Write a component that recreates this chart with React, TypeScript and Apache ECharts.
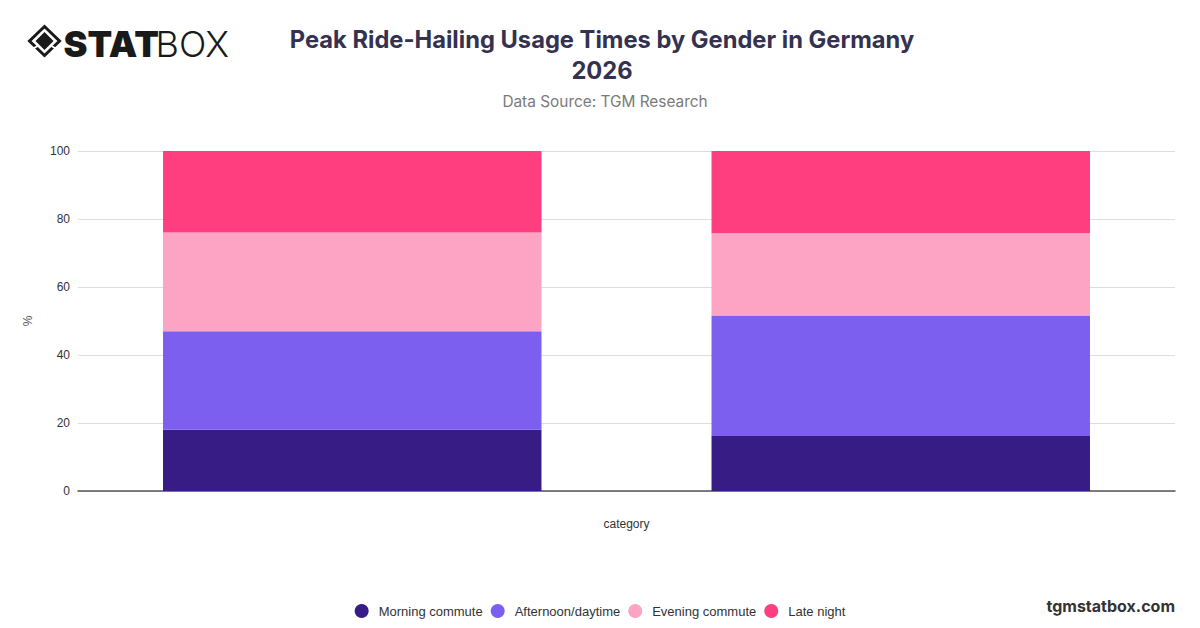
import React, { useEffect, useRef } from "react";
import * as echarts from "echarts";

const categories = ["Female", "Male"];
const seriesNames = ["Morning commute", "Afternoon/daytime", "Evening commute", "Late night"];
const morningCommute = [18, 16.2];
const afternoonDaytime = [29, 35.4];
const eveningCommute = [29, 24.2];
const lateNight = [24, 24.2];
const yTicks = [0, 20, 40, 60, 80, 100];
const colors = ["#371c85", "#7d5ff0", "#fda3c3", "#ff3e80"];

export default function App() {
  const ref = useRef<HTMLDivElement>(null);
  useEffect(() => {
    if (!ref.current) return;
    const chart = echarts.init(ref.current, undefined, { renderer: "svg" });
    const values = [morningCommute, afternoonDaytime, eveningCommute, lateNight];
    const font = "Liberation Sans, Arial, sans-serif";
    chart.setOption({
      animation: false,
      backgroundColor: "#ffffff",
      title: [
        {
          text: "Peak Ride-Hailing Usage Times by Gender in Germany\n2026",
          left: 597,
          textAlign: "center",
          top: 19,
          textStyle: {
            fontFamily: "Inter, sans-serif",
            fontSize: 23.7,
            fontWeight: 700,
            color: "#34324f",
            lineHeight: 31,
          },
        },
        {
          text: "Data Source: TGM Research",
          left: 600,
          textAlign: "center",
          top: 89,
          textStyle: {
            fontFamily: "Inter, sans-serif",
            fontSize: 15.4,
            fontWeight: 400,
            color: "#7a7a7a",
          },
        },
      ],
      legend: {
        bottom: 5,
        left: "center",
        icon: "circle",
        itemWidth: 14,
        itemHeight: 14,
        itemGap: 8,
        textStyle: { fontFamily: font, fontSize: 13, color: "#333", padding: [0, 0, 0, 5] },
        data: seriesNames,
      },
      grid: { left: 78, right: 25, top: 151, bottom: 137 },
      xAxis: {
        type: "category",
        data: categories,
        name: "category",
        nameLocation: "middle",
        nameGap: 27,
        nameTextStyle: { fontFamily: font, fontSize: 12, color: "#333" },
        axisLabel: { show: false },
        axisTick: { show: false },
        axisLine: { lineStyle: { color: "#555", width: 1.5 } },
      },
      yAxis: {
        type: "value",
        min: yTicks[0],
        max: yTicks[yTicks.length - 1],
        interval: 20,
        name: "%",
        nameLocation: "middle",
        nameGap: 44,
        nameTextStyle: { fontFamily: font, fontSize: 12, color: "#555" },
        axisLabel: { fontFamily: font, fontSize: 12, color: "#333", margin: 8 },
        splitLine: { lineStyle: { color: "#dddddd" } },
        axisLine: { show: false },
        axisTick: { show: false },
      },
      series: seriesNames.map((name, i) => ({
        name,
        type: "bar",
        stack: "total",
        barCategoryGap: "31%",
        data: values[i],
        itemStyle: { color: colors[i] },
      })),
      graphic: [
        {
          type: "group",
          left: 27,
          top: 24,
          children: [
            {
              type: "polygon",
              shape: { points: [[16, 1.5], [31, 16], [16, 30.5], [1, 16]] },
              style: { fill: "none", stroke: "#1a1a1a", lineWidth: 3 },
            },
            {
              type: "polygon",
              shape: { points: [[16, 7], [25, 16], [16, 25], [7, 16]] },
              style: { fill: "#1a1a1a" },
            },
            {
              type: "line",
              shape: { x1: 9, y1: 21, x2: 4, y2: 24 },
              style: { stroke: "#fff", lineWidth: 2 },
            },
            {
              type: "line",
              shape: { x1: 23, y1: 21, x2: 28, y2: 24 },
              style: { stroke: "#fff", lineWidth: 2 },
            },
            {
              type: "text",
              x: 35,
              y: 1,
              style: {
                text: "STAT",
                fontFamily: "Inter, sans-serif",
                fontSize: 36,
                fontWeight: 900,
                fill: "#1a1a1a",
              },
            },
            {
              type: "text",
              x: 127,
              y: 1,
              style: {
                text: "BOX",
                fontFamily: "Inter, sans-serif",
                fontSize: 36,
                fontWeight: 300,
                fill: "#1a1a1a",
              },
            },
          ],
        },
        {
          type: "text",
          right: 25,
          top: 598,
          style: {
            text: "tgmstatbox.com",
            fontFamily: "Inter, sans-serif",
            fontSize: 16,
            fontWeight: 700,
            fill: "#333",
          },
        },
      ],
    });
    return () => chart.dispose();
  }, []);
  return <div ref={ref} style={{ position: "fixed", left: 0, top: 0, width: 1200, height: 628 }} />;
}
